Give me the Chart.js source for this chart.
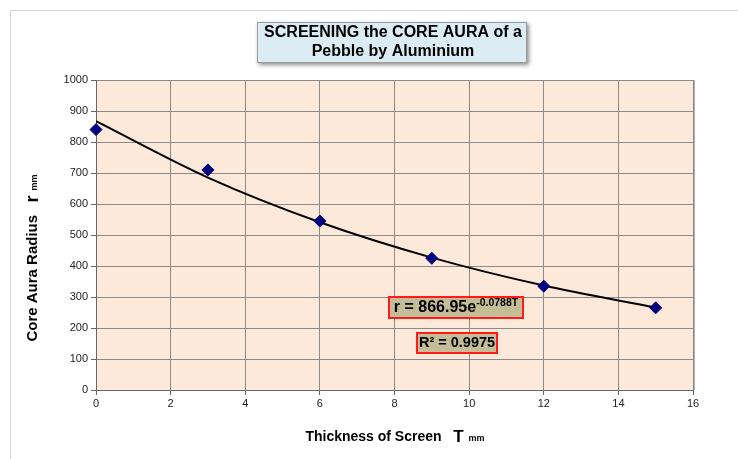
<!DOCTYPE html>
<html>
<head>
<meta charset="utf-8">
<script src="https://cdn.jsdelivr.net/npm/chart.js@4.4.0/dist/chart.umd.min.js"></script>
<style>
  html, body { margin: 0; padding: 0; background: #fff; }
  #wrap { position: relative; width: 738px; height: 459px; }
</style>
</head>
<body>
<div id="wrap"><canvas id="auraChart" width="738" height="459"></canvas></div>
<script>
// Measured points
const thickness = [0, 3, 6, 9, 12, 15];
const radius = [840, 710, 545, 425, 335, 265];
// Trendline
const trendT = [0, 3, 6, 9, 12, 15];
const trendR = [867, 685, 541, 427, 337, 266];
const xTicks = [0, 2, 4, 6, 8, 10, 12, 14, 16];
const yTicks = [0, 100, 200, 300, 400, 500, 600, 700, 800, 900, 1000];

const FONT = '"Liberation Sans", Arial, sans-serif';

// Draw background, title, axis titles and the equation boxes
const decor = {
  id: 'decor',
  beforeDraw(chart) {
    const c = chart.ctx;
    const a = chart.chartArea;
    c.save();
    // frame
    c.strokeStyle = '#d4d4d4';
    c.lineWidth = 1;
    c.beginPath();
    c.moveTo(10.5, 459);
    c.lineTo(10.5, 10.5);
    c.lineTo(738, 10.5);
    c.stroke();
    // plot background
    c.fillStyle = '#fde9da';
    c.fillRect(a.left, a.top, a.right - a.left, a.bottom - a.top);
    // right shadow of plot
    c.fillStyle = '#b0b0b0';
    c.fillRect(a.right, a.top, 2, a.bottom - a.top);
    c.restore();
  },
  afterDraw(chart) {
    const c = chart.ctx;
    c.save();
    // title box with soft shadow
    c.shadowColor = 'rgba(0,0,0,0.45)';
    c.shadowBlur = 4;
    c.shadowOffsetX = 2;
    c.shadowOffsetY = 2;
    c.fillStyle = '#dcecf4';
    c.fillRect(257, 22, 270, 41);
    c.shadowColor = 'transparent';
    c.strokeStyle = '#9a9a9a';
    c.lineWidth = 1;
    c.strokeRect(257.5, 22.5, 269, 40);
    c.fillStyle = '#000';
    c.font = 'bold 16px ' + FONT;
    c.textAlign = 'center';
    c.textBaseline = 'middle';
    c.fillText('SCREENING the CORE AURA of a', 393, 33);
    c.fillText('Pebble by Aluminium', 393, 52);

    // x axis title
    drawParts(c, [
      ['Thickness of Screen   ', 'bold 14px ' + FONT, 0],
      ['T', 'bold 17px ' + FONT, 0],
      ['  mm', 'bold 9px ' + FONT, 2]
    ], 395, 437);

    // y axis title (rotated)
    c.save();
    c.translate(33, 258);
    c.rotate(-Math.PI / 2);
    drawParts(c, [
      ['Core Aura Radius   ', 'bold 15px ' + FONT, 0],
      ['r', 'bold 18px ' + FONT, 0],
      ['  mm', 'bold 9px ' + FONT, 2]
    ], 0, 0);
    c.restore();

    // equation box
    box(c, 389, 297, 134, 21);
    drawParts(c, [
      ['r = 866.95e', 'bold 16px ' + FONT, 1],
      ['-0.0788T', 'bold 10.5px ' + FONT, -4]
    ], 456, 307);
    // R squared box
    box(c, 417, 333, 80, 20);
    drawParts(c, [
      ['R\u00b2 = 0.9975', 'bold 14.5px ' + FONT, 0]
    ], 457, 343);
    c.restore();
  }
};

function box(c, x, y, w, h) {
  c.fillStyle = '#c4bd97';
  c.fillRect(x, y, w, h);
  c.strokeStyle = '#ff1a1a';
  c.lineWidth = 2;
  c.strokeRect(x, y, w, h);
}

function drawParts(c, parts, cx, cy) {
  c.textBaseline = 'middle';
  c.textAlign = 'left';
  let total = 0;
  parts.forEach(p => { c.font = p[1]; total += c.measureText(p[0]).width; });
  let x = cx - total / 2;
  parts.forEach(p => {
    c.font = p[1];
    c.fillStyle = '#000';
    c.fillText(p[0], x, cy + p[2]);
    x += c.measureText(p[0]).width;
  });
}

const ctx = document.getElementById('auraChart').getContext('2d');
const auraChart = new Chart(ctx, {
  type: 'scatter',
  data: {
    datasets: [
      {
        label: 'Trend',
        data: trendT.map((t, i) => ({ x: t, y: trendR[i] })),
        showLine: true,
        borderColor: '#000',
        borderWidth: 2,
        pointRadius: 0,
        cubicInterpolationMode: 'monotone',
        order: 2
      },
      {
        label: 'Core Aura Radius',
        data: thickness.map((t, i) => ({ x: t, y: radius[i] })),
        backgroundColor: '#000080',
        borderColor: '#000080',
        pointStyle: 'rectRot',
        pointRadius: 6,
        showLine: false,
        clip: false,
        order: 1
      }
    ]
  },
  options: {
    responsive: false,
    animation: false,
    layout: { padding: { left: 0, top: 80, right: 45, bottom: 0 } },
    plugins: {
      legend: { display: false },
      tooltip: { enabled: false }
    },
    scales: {
      x: {
        type: 'linear',
        min: 0,
        max: 16,
        afterBuildTicks: s => { s.ticks = xTicks.map(v => ({ value: v })); },
        afterFit: s => { s.height = 69; },
        ticks: { color: '#222', font: { family: FONT, size: 11 }, padding: 2, maxRotation: 0, callback: v => String(v) },
        grid: { color: '#8a8a8a', tickLength: 5, tickColor: '#666' },
        border: { color: '#666' }
      },
      y: {
        min: 0,
        max: 1000,
        afterBuildTicks: s => { s.ticks = yTicks.map(v => ({ value: v })); },
        afterFit: s => { s.width = 96; },
        ticks: { color: '#222', font: { family: FONT, size: 11 }, padding: 3, callback: v => String(v) },
        grid: { color: '#8a8a8a', tickLength: 5, tickColor: '#666' },
        border: { color: '#666' }
      }
    }
  },
  plugins: [decor]
});
</script>
</body>
</html>
